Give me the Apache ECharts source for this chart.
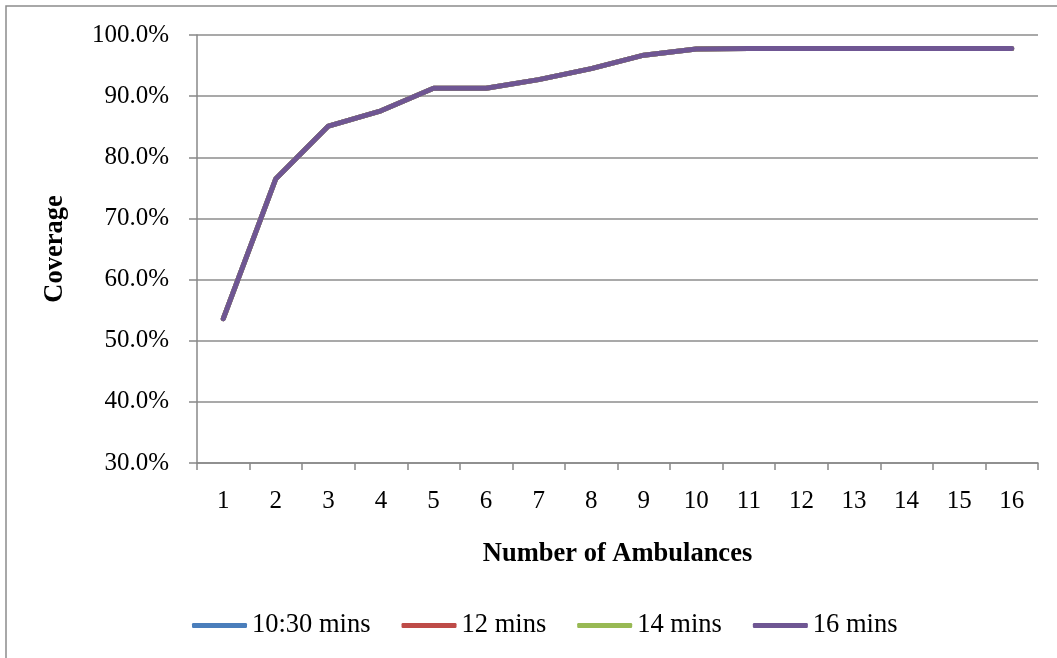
<!DOCTYPE html>
<html>
<head>
<meta charset="utf-8">
<script src="https://cdn.jsdelivr.net/npm/echarts@6/dist/echarts.min.js"></script>
<style>
html,body{margin:0;padding:0;background:#fff;}
#chart{width:1057px;height:658px;}
</style>
</head>
<body>
<div id="chart"></div>
<script>
var categories = ['1','2','3','4','5','6','7','8','9','10','11','12','13','14','15','16'];
var seriesNames = ['10:30 mins','12 mins','14 mins','16 mins'];
var cov1030 = [53.6, 76.5, 85.1, 87.6, 91.3, 91.3, 92.7, 94.5, 96.7, 97.7, 97.8, 97.8, 97.8, 97.8, 97.8, 97.8];
var cov12   = [53.6, 76.5, 85.1, 87.6, 91.3, 91.3, 92.7, 94.5, 96.7, 97.7, 97.8, 97.8, 97.8, 97.8, 97.8, 97.8];
var cov14   = [53.6, 76.5, 85.1, 87.6, 91.3, 91.3, 92.7, 94.5, 96.7, 97.7, 97.8, 97.8, 97.8, 97.8, 97.8, 97.8];
var cov16   = [53.6, 76.5, 85.1, 87.6, 91.3, 91.3, 92.7, 94.5, 96.7, 97.7, 97.8, 97.8, 97.8, 97.8, 97.8, 97.8];
var colors = ['#4A7EBB','#BE4B48','#98B954','#6F5693'];
var dataSets = [cov1030, cov12, cov14, cov16];

var FONT = "'Liberation Serif', 'Times New Roman', serif";
var chart = echarts.init(document.getElementById('chart'), null, {renderer:'canvas'});

var series = seriesNames.map(function(n, i){
  return {
    name: n,
    type: 'line',
    data: dataSets[i],
    symbol: 'none',
    lineStyle: {color: colors[i], width: 5, cap: 'round', join: 'round'},
    itemStyle: {color: colors[i]},
    animation: false,
    z: 2 + i
  };
});

chart.setOption({
  animation: false,
  color: colors,
  graphic: [{
    type: 'rect',
    shape: {x: 6, y: 6, width: 1070, height: 670},
    style: {fill: 'none', stroke: '#8c8c8c', lineWidth: 1.5},
    silent: true
  }],
  grid: {left: 197, right: 19, top: 35, bottom: 195, containLabel: false},
  legend: {
    data: seriesNames.map(function(n, i){ return {name: n, icon: 'roundRect'}; }),
    left: 187,
    top: 607,
    itemWidth: 55,
    itemHeight: 5,
    itemGap: 31,
    textStyle: {fontFamily: FONT, fontSize: 26.5, color: '#000'}
  },
  xAxis: {
    type: 'category',
    data: categories,
    boundaryGap: true,
    name: 'Number of Ambulances',
    nameLocation: 'middle',
    nameGap: 78,
    nameTextStyle: {fontFamily: FONT, fontSize: 26.5, fontWeight: 'bold', color: '#000'},
    axisLine: {lineStyle: {color: '#888', width: 1.5}},
    axisTick: {show: true, alignWithLabel: false, length: 7, lineStyle: {color: '#888', width: 1.5}},
    axisLabel: {fontFamily: FONT, fontSize: 25, color: '#000', margin: 26, interval: 0}
  },
  yAxis: {
    type: 'value',
    min: 30,
    max: 100,
    interval: 10,
    name: 'Coverage',
    nameLocation: 'middle',
    nameGap: 128,
    nameRotate: 90,
    nameTextStyle: {fontFamily: FONT, fontSize: 26.5, fontWeight: 'bold', color: '#000'},
    axisLine: {show: true, lineStyle: {color: '#888', width: 1.5}},
    axisTick: {show: true, length: 8, lineStyle: {color: '#888', width: 1.5}},
    splitLine: {show: true, lineStyle: {color: '#8c8c8c', width: 1.5}},
    axisLabel: {fontFamily: FONT, fontSize: 25, color: '#000', margin: 28,
      formatter: function(v){ return v.toFixed(1) + '%'; }}
  },
  series: series
});
</script>
</body>
</html>
